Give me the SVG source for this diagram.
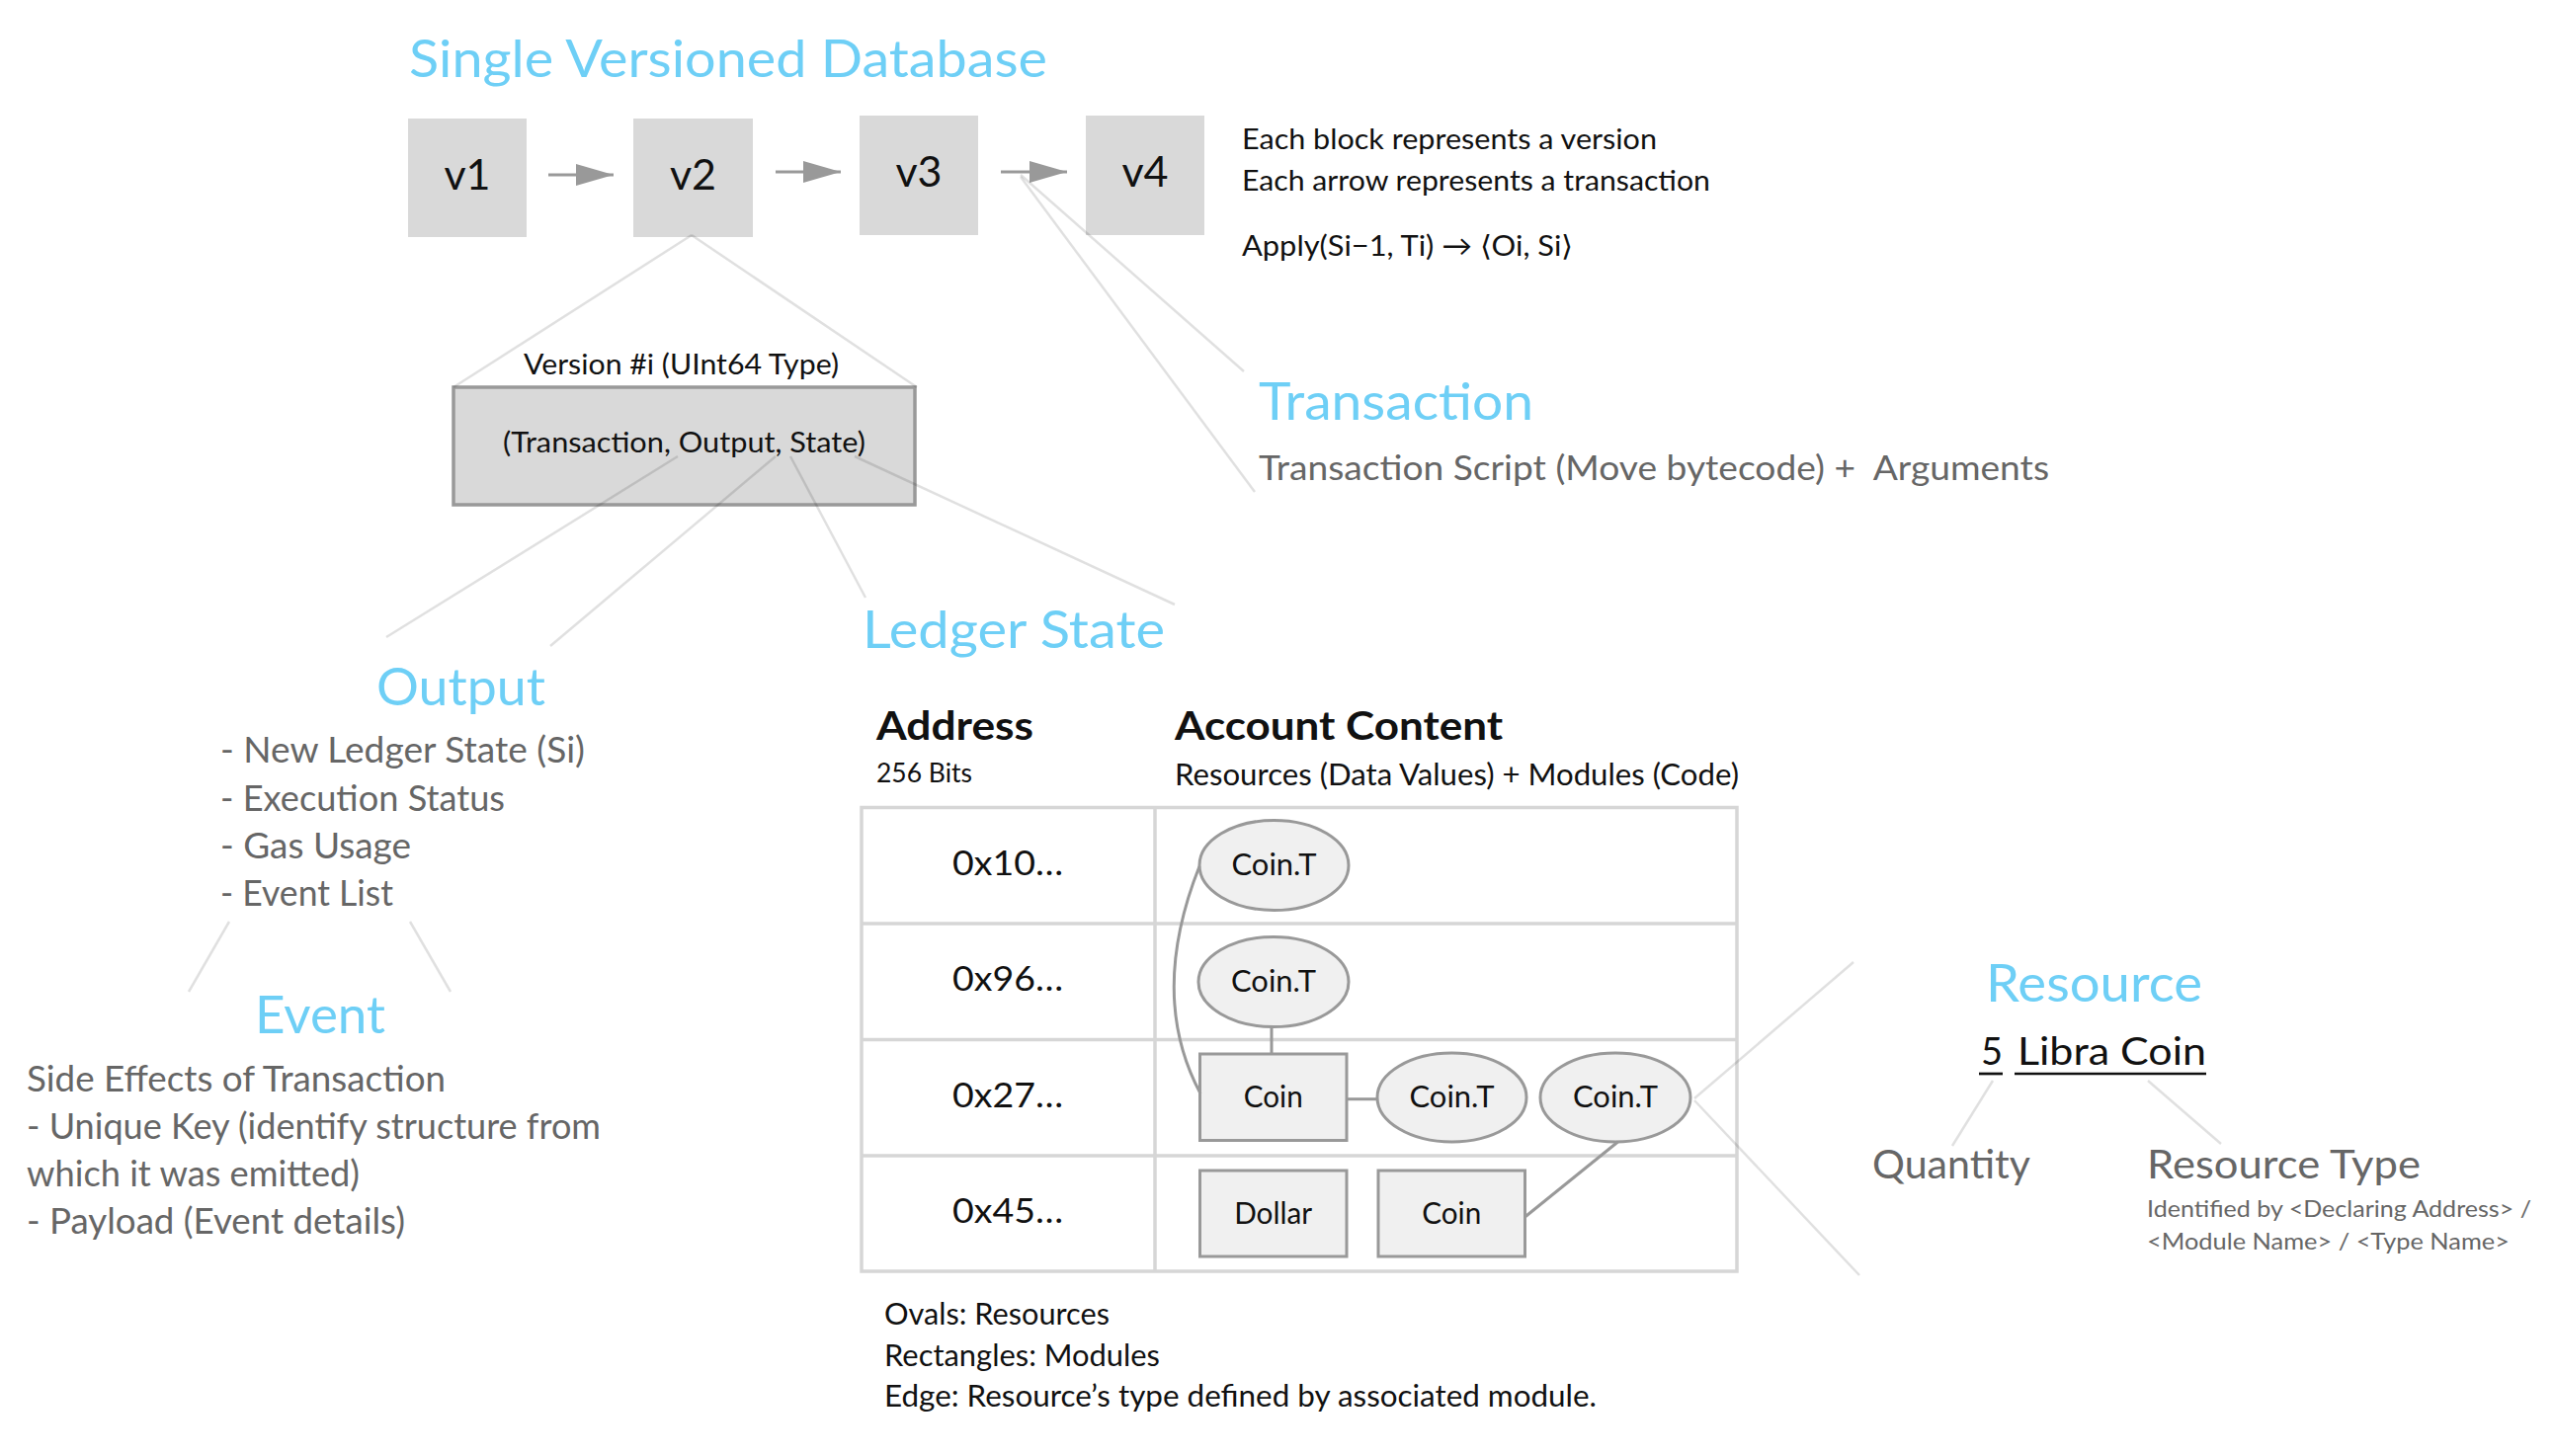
<svg xmlns="http://www.w3.org/2000/svg" width="2584" height="1474" viewBox="0 0 2584 1474">
<style>
  text { font-family: Lato, "Noto Sans", "Liberation Sans", sans-serif; }
  .head { fill: #6ecff6; font-size: 53px; }
  .blk { fill: #d9d9d9; }
  .vlab { fill: #111; font-size: 43px; text-anchor: middle; }
  .note { fill: #111; font-size: 29px; }
  .gray { fill: #666; }
  .lst { fill: #666; font-size: 36px; }
  .thin { stroke: #000; stroke-opacity: 0.12; stroke-width: 2.5; fill: none; }
  .edge { stroke: #999; stroke-width: 3; fill: none; }
  .arr { stroke: #999; stroke-width: 3; fill: none; }
  .res { fill: #f0f0f0; stroke: #999; stroke-width: 3; }
  .ctext { fill: #111; font-size: 30px; }
  .addr { fill: #111; font-size: 34px; }
  .grid { stroke: #d6d6d6; stroke-width: 3.5; fill: none; }
  .bold { fill: #111; font-size: 40px; font-weight: bold; }
</style>
<defs>
  <marker id="ah" markerUnits="userSpaceOnUse" markerWidth="40" markerHeight="24" refX="38" refY="11" orient="auto">
    <path d="M0,0 L38,11 L0,22 Z" fill="#999"/>
  </marker>
</defs>
<rect width="2584" height="1474" fill="#ffffff"/>

<g id="title">
  <text class="head" x="414" y="78" textLength="646" lengthAdjust="spacingAndGlyphs">Single Versioned Database</text>
</g>

<g id="v1"><rect class="blk" x="413" y="120" width="120" height="120"/><text class="vlab" x="473" y="192">v1</text></g>
<g id="v2"><rect class="blk" x="641" y="120" width="121" height="120"/><text class="vlab" x="701.5" y="192">v2</text></g>
<g id="v3"><rect class="blk" x="870" y="117" width="120" height="121"/><text class="vlab" x="930" y="189">v3</text></g>
<g id="v4"><rect class="blk" x="1099" y="117" width="120" height="121"/><text class="vlab" x="1159" y="189">v4</text></g>

<g id="notes">
  <text class="note" x="1257" y="151" textLength="420" lengthAdjust="spacingAndGlyphs">Each block represents a version</text>
  <text class="note" x="1257" y="193" textLength="474" lengthAdjust="spacingAndGlyphs">Each arrow represents a transaction</text>
  <text class="note" x="1257" y="259" textLength="335" lengthAdjust="spacingAndGlyphs">Apply(Si−1, Ti) → ⟨Oi, Si⟩</text>
</g>

<g id="transaction">
  <text class="head" x="1274" y="425" textLength="278" lengthAdjust="spacingAndGlyphs">Transaction</text>
  <text class="gray" x="1274" y="486" font-size="35" xml:space="preserve" textLength="800" lengthAdjust="spacingAndGlyphs">Transaction Script (Move bytecode) +  Arguments</text>
</g>

<g id="version">
  <text class="note" x="530" y="379" font-size="27" textLength="319" lengthAdjust="spacingAndGlyphs">Version #i (UInt64 Type)</text>
  <rect x="459" y="392" width="467" height="119" fill="#d9d9d9" stroke="#999" stroke-width="3.5"/>
  <text class="note" x="509" y="458" textLength="367" lengthAdjust="spacingAndGlyphs">(Transaction, Output, State)</text>
</g>

<g id="output">
  <text class="head" x="381" y="714" textLength="171" lengthAdjust="spacingAndGlyphs">Output</text>
  <text class="lst" x="223" y="772" textLength="369" lengthAdjust="spacingAndGlyphs">- New Ledger State (Si)</text>
  <text class="lst" x="223" y="821" textLength="288" lengthAdjust="spacingAndGlyphs">- Execution Status</text>
  <text class="lst" x="223" y="869" textLength="193" lengthAdjust="spacingAndGlyphs">- Gas Usage</text>
  <text class="lst" x="223" y="917" textLength="175" lengthAdjust="spacingAndGlyphs">- Event List</text>
</g>

<g id="event">
  <text class="head" x="258" y="1046" textLength="132" lengthAdjust="spacingAndGlyphs">Event</text>
  <text class="lst" x="27" y="1105" textLength="424" lengthAdjust="spacingAndGlyphs">Side Effects of Transaction</text>
  <text class="lst" x="27" y="1153" textLength="581" lengthAdjust="spacingAndGlyphs">- Unique Key (identify structure from</text>
  <text class="lst" x="27" y="1201" textLength="337" lengthAdjust="spacingAndGlyphs">which it was emitted)</text>
  <text class="lst" x="27" y="1249" textLength="383" lengthAdjust="spacingAndGlyphs">- Payload (Event details)</text>
</g>

<g id="ledger-state">
  <text class="head" x="873" y="656" textLength="306" lengthAdjust="spacingAndGlyphs">Ledger State</text>
  <text class="bold" x="887" y="749" textLength="159" lengthAdjust="spacingAndGlyphs">Address</text>
  <text fill="#111" font-size="27" x="887" y="792" textLength="97" lengthAdjust="spacingAndGlyphs">256 Bits</text>
  <text class="bold" x="1189" y="749" textLength="332" lengthAdjust="spacingAndGlyphs">Account Content</text>
  <text fill="#111" font-size="30" x="1189" y="795" textLength="571" lengthAdjust="spacingAndGlyphs">Resources (Data Values) + Modules (Code)</text>
  <rect class="grid" x="872" y="817.5" width="886" height="469.5"/>
  <line class="grid" x1="1169" y1="817.5" x2="1169" y2="1287"/>
  <line class="grid" x1="872" y1="935" x2="1758" y2="935"/>
  <line class="grid" x1="872" y1="1052.5" x2="1758" y2="1052.5"/>
  <line class="grid" x1="872" y1="1170" x2="1758" y2="1170"/>
  <text class="addr" x="964" y="886" textLength="112" lengthAdjust="spacingAndGlyphs">0x10…</text>
  <text class="addr" x="964" y="1003" textLength="112" lengthAdjust="spacingAndGlyphs">0x96…</text>
  <text class="addr" x="964" y="1121" textLength="112" lengthAdjust="spacingAndGlyphs">0x27…</text>
  <text class="addr" x="964" y="1238" textLength="112" lengthAdjust="spacingAndGlyphs">0x45…</text>
</g>

<g id="r1-coinT"><ellipse class="res" cx="1289.5" cy="876" rx="75.5" ry="45.5"/><text class="ctext" x="1246.5" y="886" textLength="86" lengthAdjust="spacingAndGlyphs">Coin.T</text></g>
<g id="r2-coinT"><ellipse class="res" cx="1289" cy="994" rx="76" ry="45.5"/><text class="ctext" x="1246" y="1004" textLength="86" lengthAdjust="spacingAndGlyphs">Coin.T</text></g>
<g id="r3-coin"><rect class="res" x="1214.5" y="1067" width="148.5" height="87.5"/><text class="ctext" x="1258.7" y="1121" textLength="60" lengthAdjust="spacingAndGlyphs">Coin</text></g>
<g id="r3-coinT-a"><ellipse class="res" cx="1469.5" cy="1111" rx="75.5" ry="45"/><text class="ctext" x="1426.5" y="1121" textLength="86" lengthAdjust="spacingAndGlyphs">Coin.T</text></g>
<g id="r3-coinT-b"><ellipse class="res" cx="1635" cy="1111" rx="76" ry="45"/><text class="ctext" x="1592" y="1121" textLength="86" lengthAdjust="spacingAndGlyphs">Coin.T</text></g>
<g id="r4-dollar"><rect class="res" x="1214.5" y="1185" width="148.5" height="87"/><text class="ctext" x="1249.2" y="1239" textLength="79" lengthAdjust="spacingAndGlyphs">Dollar</text></g>
<g id="r4-coin"><rect class="res" x="1395" y="1185" width="148.5" height="87"/><text class="ctext" x="1439.2" y="1239" textLength="60" lengthAdjust="spacingAndGlyphs">Coin</text></g>

<g id="legend">
  <text fill="#111" font-size="30" x="895" y="1341" textLength="228" lengthAdjust="spacingAndGlyphs">Ovals: Resources</text>
  <text fill="#111" font-size="30" x="895" y="1383" textLength="279" lengthAdjust="spacingAndGlyphs">Rectangles: Modules</text>
  <text fill="#111" font-size="30" x="895" y="1424" textLength="721" lengthAdjust="spacingAndGlyphs">Edge: Resource’s type defined by associated module.</text>
</g>

<g id="resource">
  <text class="head" x="2010" y="1014" font-size="51" textLength="219" lengthAdjust="spacingAndGlyphs">Resource</text>
  <text fill="#111" font-size="38" x="2005" y="1078">5</text>
  <text fill="#111" font-size="38" x="2042" y="1078" textLength="191" lengthAdjust="spacingAndGlyphs">Libra Coin</text>
  <line x1="2003" y1="1087" x2="2027" y2="1087" stroke="#111" stroke-width="2.7"/>
  <line x1="2039" y1="1087" x2="2233" y2="1087" stroke="#111" stroke-width="2.7"/>
  <text class="gray" font-size="40" x="1895" y="1193" textLength="160" lengthAdjust="spacingAndGlyphs">Quantity</text>
  <text class="gray" font-size="40" x="2173" y="1193" textLength="277" lengthAdjust="spacingAndGlyphs">Resource Type</text>
  <text class="gray" font-size="23.5" x="2173" y="1232" textLength="389" lengthAdjust="spacingAndGlyphs">Identified by &lt;Declaring Address&gt; /</text>
  <text class="gray" font-size="23.5" x="2173" y="1265" textLength="367" lengthAdjust="spacingAndGlyphs">&lt;Module Name&gt; / &lt;Type Name&gt;</text>
</g>

<g id="connectors">
  <line class="arr" x1="555" y1="177" x2="621" y2="177" marker-end="url(#ah)"/>
  <line class="arr" x1="785" y1="174" x2="851" y2="174" marker-end="url(#ah)"/>
  <line class="arr" x1="1013" y1="174" x2="1080" y2="174" marker-end="url(#ah)"/>
  <line class="thin" x1="1033" y1="177" x2="1259" y2="376"/>
  <line class="thin" x1="1033" y1="179" x2="1270" y2="498"/>
  <line class="thin" x1="700" y1="238" x2="459" y2="392"/>
  <line class="thin" x1="700" y1="238" x2="928" y2="392"/>
  <line class="thin" x1="686" y1="462" x2="391" y2="645"/>
  <line class="thin" x1="785" y1="462" x2="557" y2="654"/>
  <line class="thin" x1="800" y1="462" x2="876" y2="605"/>
  <line class="thin" x1="865" y1="462" x2="1189" y2="612"/>
  <line class="thin" x1="232" y1="933" x2="191" y2="1004"/>
  <line class="thin" x1="415" y1="933" x2="456" y2="1004"/>
  <line class="thin" x1="1715" y1="1112" x2="1876" y2="974"/>
  <line class="thin" x1="1715" y1="1114" x2="1882" y2="1291"/>
  <line class="thin" x1="2017" y1="1094" x2="1976" y2="1160"/>
  <line class="thin" x1="2174" y1="1094" x2="2248" y2="1158"/>
  <line class="edge" x1="1287" y1="1039.5" x2="1287" y2="1067"/>
  <line class="edge" x1="1363" y1="1112.7" x2="1394" y2="1112.7"/>
  <path class="edge" d="M1214,877 Q1162,1008 1215,1107"/>
  <line class="edge" x1="1637.5" y1="1156" x2="1543.5" y2="1232"/>
</g>
</svg>
